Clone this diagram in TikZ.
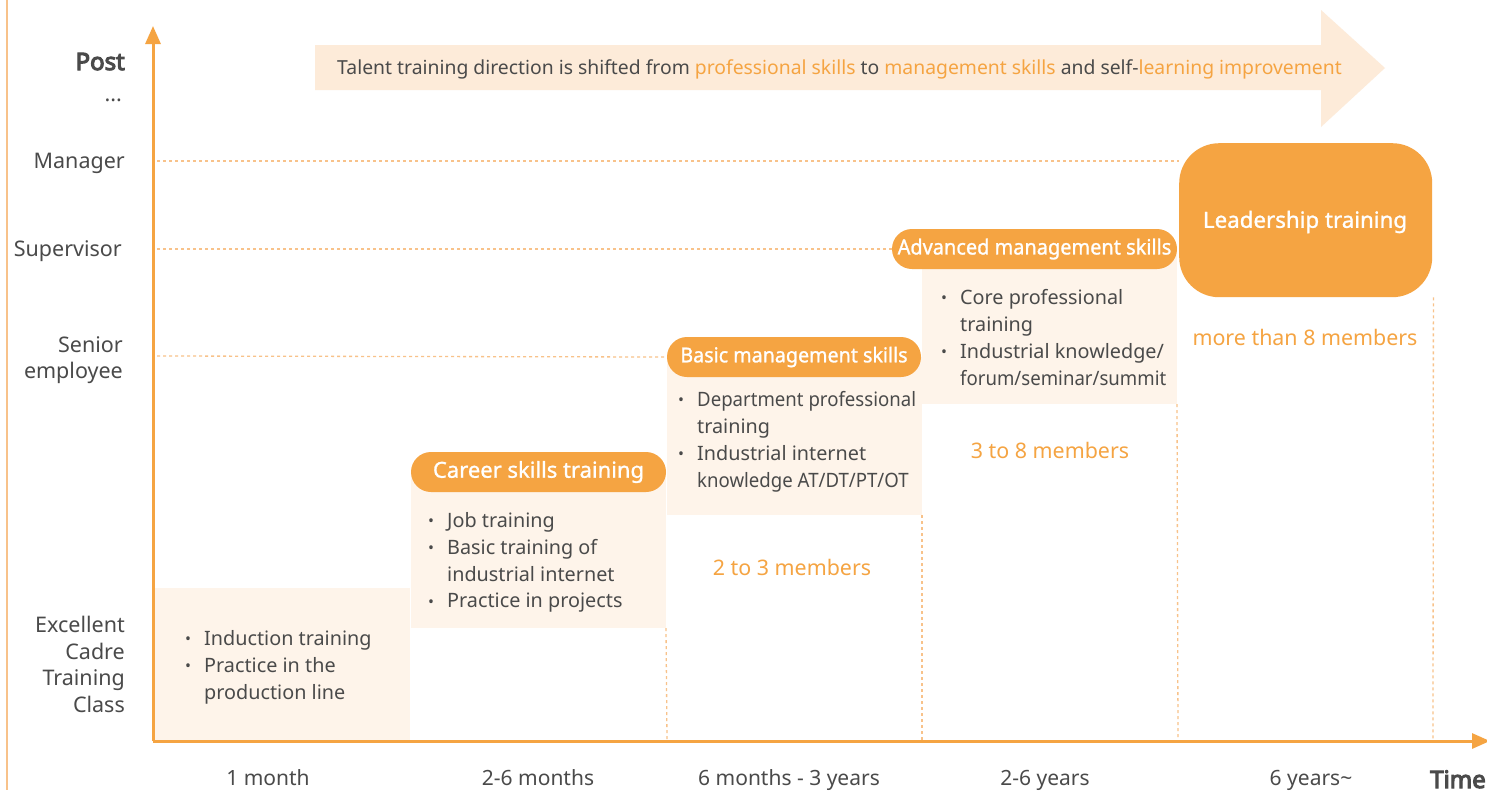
\documentclass[tikz,border=0pt]{standalone}
\usepackage{fontspec}
\setmainfont{Noto Sans}
\newfontfamily\boldf{Noto Sans}[FakeBold=4.5]
\newfontfamily\medf{Noto Sans}[FakeBold=1.2]
\usetikzlibrary{arrows.meta}
\definecolor{org}{HTML}{F5A442}
\definecolor{orgdot}{HTML}{F8C28A}
\definecolor{lt}{HTML}{FEF4EA}
\definecolor{arr}{HTML}{FDEBD9}
\definecolor{txt}{HTML}{4A4A4A}
\newcommand\bul{\makebox[21pt][l]{\hspace{2pt}\raisebox{0.5pt}{\scalebox{0.8}{\textbullet}}}}
\newcommand\ind{\hspace*{21pt}}
\tikzset{
  lbl/.style={text=txt, font=\fontsize{21.5}{26.7}\selectfont, align=right, anchor=east, inner sep=0pt, text height=15pt, text depth=5pt},
  mlbl/.style={text=txt, font=\fontsize{21.5}{26.7}\selectfont, align=right, anchor=north east, inner sep=0pt},
  pill/.style={fill=org, rounded corners=20pt, text=white, inner sep=0pt, minimum height=40pt},
  lightbox/.style={fill=lt, draw=none, inner sep=0pt, outer sep=0pt, anchor=north west},
  items/.style={text=txt, font=\fontsize{19.8}{26.9}\selectfont, align=left, anchor=north west, inner sep=0pt},
  mem/.style={text=org, font=\fontsize{21.4}{24}\selectfont, inner sep=0pt, text height=15pt, text depth=5pt},
  gridline/.style={orgdot, line width=1.3pt, dash pattern=on 3pt off 3pt},
  axisline/.style={org, line width=3pt, -{Triangle[length=18pt,width=15pt]}},
  tick/.style={text=txt, font=\fontsize{21}{24}\selectfont, inner sep=0pt, text height=15pt, text depth=5pt},
}
\begin{document}
\begin{tikzpicture}[x=1pt,y=-1pt]
\useasboundingbox (0,0) rectangle (1487,790);
\fill[white] (0,0) rectangle (1487,790);
% left border line
\draw[orgdot, line width=2pt] (7,0) -- (7,790);

% top arrow
\fill[arr] (315,45) -- (1321,45) -- (1321,10) -- (1385,68) -- (1321,127) -- (1321,90) -- (315,90) -- cycle;
\node[anchor=west, inner sep=0pt, text=txt, font=\fontsize{19.35}{24}\selectfont, text height=14pt, text depth=5pt] (dir) at (337,70)
  {Talent training direction is shifted from \textcolor{org}{professional skills} to \textcolor{org}{management skills} and self-\textcolor{org}{learning improvement}};

% light boxes
\node[lightbox, minimum width=255pt, minimum height=152pt] (b1) at (155,588) {};
\node[lightbox, minimum width=255pt, minimum height=156pt] (b2) at (411,472) {};
\node[lightbox, minimum width=255pt, minimum height=158pt] (b3) at (667,357) {};
\node[lightbox, minimum width=255pt, minimum height=155pt] (b4) at (922,249) {};

% pills
\node[pill, minimum width=255pt, font=\fontsize{22}{24}\medf] (p2) at (538.5,472) {Career skills training};
\node[pill, minimum width=254pt, font=\fontsize{20.5}{24}\medf] (p3) at (794,357) {\scalebox{0.96}[1]{Basic management skills}};
\node[pill, minimum width=285pt, font=\fontsize{21}{24}\medf] (p4) at (1034.5,249) {\scalebox{0.95}[1]{Advanced management skills}};
\node[fill=org, rounded corners=40pt, minimum width=253pt, minimum height=154pt, inner sep=0pt, anchor=north west, text=white] (p5) at (1179,143) {};
\node[text=white, font=\fontsize{22.3}{24}\medf, inner sep=0pt] (lead) at (1305,222) {Leadership training};

% grid lines
\coordinate (gm) at (157,161);
\coordinate (gs) at (157,249);
\coordinate (ge) at (157,356);
\draw[gridline] (gm) -- (p5.north west |- gm);
\draw[gridline] (gs) -- (p4.west);
\draw[gridline] (ge) -- (p3.west);
\draw[gridline] (b2.south east) -- (667,740);
\draw[gridline] (b3.south east) -- (922,740);
\draw[gridline] (b4.south east) -- (1178,740);
\draw[gridline] (p5.south east) ++(1,0) -- (1433,740);

% item lists
\node[items] (i1) at (183,630) {\bul Induction training\\ \bul Practice in the\\ \ind production line};
\node[items] (i2) at (426,512) {\bul Job training\\ \bul Basic training of\\ \ind industrial internet\\ \bul Practice in projects};
\node[items] (i3) at (676,391) {\bul \scalebox{0.94}[1]{Department professional}\\ \ind training\\ \bul Industrial internet\\ \ind \scalebox{0.94}[1]{knowledge AT/DT/PT/OT}};
\node[items] (i4) at (939,289) {\bul Core professional\\ \ind training\\ \bul Industrial knowledge/\\ \ind \scalebox{0.94}[1]{forum/seminar/summit}};

% members
\node[mem] (m3) at (792,570) {2 to 3 members};
\node[mem] (m4) at (1050,453) {3 to 8 members};
\node[mem] (m5) at (1305,340) {more than 8 members};

% axes
\coordinate (o) at (153,741);
\coordinate (ytop) at (153,26);
\coordinate (xend) at (1490,741);
\draw[axisline] (o) -- (ytop);
\draw[axisline] (o) -- (xend);

% y labels
\node[lbl, font=\fontsize{24}{24}\boldf, text height=18pt] (post) at (125,63.5) {Post};
\node[lbl] (dots) at (122,96) {...};
\node[lbl] (man) at (125,163) {Manager};
\node[lbl] (sup) at (122,251) {Supervisor};
\node[mlbl] (sen) at (123,336) {Senior\\employee};
\node[mlbl] (exc) at (125,616) {Excellent\\Cadre\\Training\\Class};

% x labels
\node[tick] (t1) at (268,780) {1 month};
\node[tick] (t2) at (538,780) {2-6 months};
\node[tick] (t3) at (789,780) {6 months - 3 years};
\node[tick] (t4) at (1045,780) {2-6 years};
\node[tick] (t5) at (1311,780) {6 years\textasciitilde};
\node[tick, anchor=west, font=\fontsize{24}{24}\boldf, text height=18pt] (time) at (1430,781.5) {Time};
\end{tikzpicture}
\end{document}
